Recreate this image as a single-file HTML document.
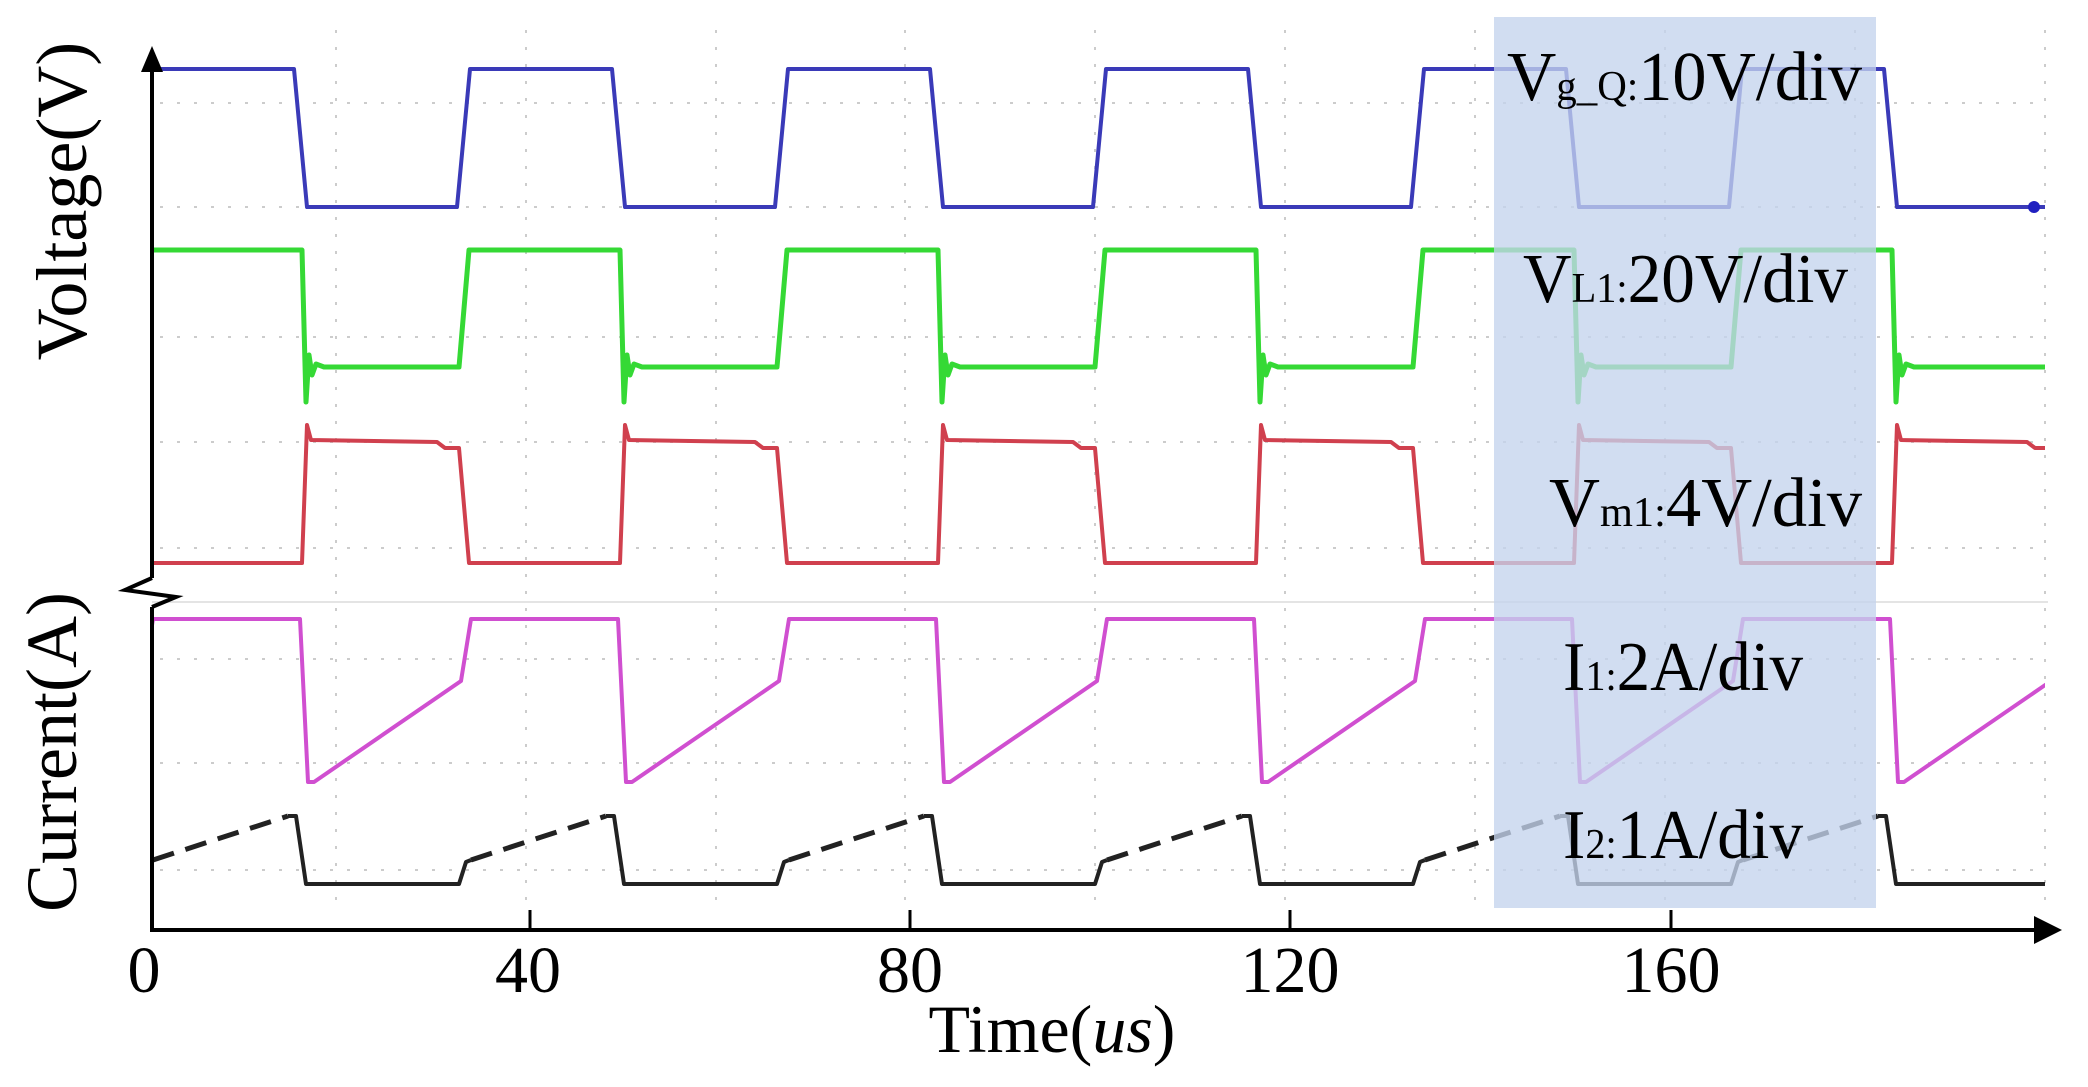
<!DOCTYPE html>
<html><head><meta charset="utf-8"><style>
html,body{margin:0;padding:0;background:#fff;}
svg{display:block;}
text{font-family:"Liberation Serif",serif;fill:#000;}
</style></head><body>
<svg id="s" width="2088" height="1087" viewBox="0 0 2088 1087" xmlns="http://www.w3.org/2000/svg">
<defs><clipPath id="c"><rect x="153" y="20" width="1892" height="900"/></clipPath></defs>
<g id="grid" stroke="#ccc" stroke-width="2" stroke-dasharray="3 14" fill="none"></g>
<line x1="152" y1="602" x2="2048" y2="602" stroke="#e4e4e4" stroke-width="2"/>
<g id="tr" clip-path="url(#c)" fill="none" stroke-linejoin="round"></g>
<rect x="1494" y="17" width="382" height="891" fill="rgb(196,211,237)" opacity="0.78"/>
<line x1="152" y1="60" x2="152" y2="578" stroke="#000" stroke-width="4"/>
<polyline points="152,578 125,590 176,597 152,607" fill="none" stroke="#000" stroke-width="4"/>
<line x1="152" y1="607" x2="152" y2="930" stroke="#000" stroke-width="4"/>
<polygon points="152,46 141,72 163,72" fill="#000"/>
<line x1="150" y1="930" x2="2040" y2="930" stroke="#000" stroke-width="4"/>
<polygon points="2062,930 2034,916 2034,944" fill="#000"/>
<g stroke="#000" stroke-width="3"><line x1="530" y1="910" x2="530" y2="930"/><line x1="910" y1="910" x2="910" y2="930"/><line x1="1290" y1="910" x2="1290" y2="930"/><line x1="1671" y1="910" x2="1671" y2="930"/></g>
<g font-size="66" text-anchor="middle">
<text x="144" y="992">0</text><text x="528" y="992">40</text><text x="910" y="992">80</text><text x="1290" y="992">120</text><text x="1671" y="992">160</text>
<text x="1052" y="1052" font-size="68">Time(<tspan font-style="italic">us</tspan>)</text>
<text transform="translate(86,201) rotate(-90)" font-size="72">Voltage(V)</text>
<text transform="translate(76,752) rotate(-90)" font-size="72">Current(A)</text>
</g>
<g font-size="70">
<text x="1507" y="100" textLength="355" lengthAdjust="spacingAndGlyphs">V<tspan font-size="42">g_Q:</tspan>10V/div</text>
<text x="1523" y="302" textLength="325" lengthAdjust="spacingAndGlyphs">V<tspan font-size="42">L1:</tspan>20V/div</text>
<text x="1549" y="526" textLength="313" lengthAdjust="spacingAndGlyphs">V<tspan font-size="42">m1:</tspan>4V/div</text>
<text x="1563" y="690" textLength="240" lengthAdjust="spacingAndGlyphs">I<tspan font-size="42">1:</tspan>2A/div</text>
<text x="1563" y="858" textLength="240" lengthAdjust="spacingAndGlyphs">I<tspan font-size="42">2:</tspan>1A/div</text>
</g>
</svg>
<script>
(function(){
var P=318,F0=294,ns="http://www.w3.org/2000/svg";
var g=document.getElementById('grid'),tr=document.getElementById('tr');
function L(p,par,attrs){var e=document.createElementNS(ns,'path');e.setAttribute('d',p);for(var k in attrs)e.setAttribute(k,attrs[k]);par.appendChild(e);}
var d="";
[336,526,716,905,1095,1285,1475,1665,1855,2045].forEach(function(x){d+="M"+x+" 30V910";});
[103,207,337,442,548,659,763,870].forEach(function(y){d+="M160 "+y+"H2045";});
L(d,g,{});
var b="M152 69",gr="M152 250",r="M152 563",pk="M152 619";
for(var k=-1;k<7;k++){
 var f=F0+P*k, ri=f+163;
 b+=" L"+f+" 69 L"+(f+13)+" 207 L"+ri+" 207 L"+(ri+13)+" 69";
 gr+=" L"+(f+8)+" 250 L"+(f+12)+" 402 L"+(f+15)+" 355 L"+(f+18)+" 375 L"+(f+22)+" 364 L"+(f+30)+" 367 L"+(ri+2)+" 367 L"+(ri+12)+" 250";
 r+=" L"+(f+8)+" 563 L"+(f+13)+" 425 L"+(f+17)+" 440 L"+(ri-20)+" 442 L"+(ri-12)+" 448 L"+(ri+2)+" 448 L"+(ri+12)+" 563";
 pk+=" L"+(f+6)+" 619 L"+(f+14)+" 782 L"+(f+20)+" 782 L"+(ri+4)+" 681 L"+(ri+14)+" 619";
}
var bk="",bkr="";
for(var k=-1;k<7;k++){
 var f=F0+P*k, ri=f+163;
 bk+="M"+(f-6)+" 816 L"+(f+2)+" 816 L"+(f+12)+" 884 L"+(ri+2)+" 884 L"+(ri+9)+" 862 L"+(ri+14)+" 860";
 bkr+="M"+(ri+14)+" 860 L"+(f+P-6)+" 816";
}
L(b,tr,{stroke:"#3a3ab8","stroke-width":4});
L(gr,tr,{stroke:"#35d935","stroke-width":5});
L(r,tr,{stroke:"#d0404e","stroke-width":4});
L(pk,tr,{stroke:"#d04fd0","stroke-width":4});
L(bk,tr,{stroke:"#222","stroke-width":4});
L(bkr,tr,{stroke:"#222","stroke-width":5,"stroke-dasharray":"22 12"});
var c=document.createElementNS(ns,'circle');c.setAttribute('cx',2034);c.setAttribute('cy',207);c.setAttribute('r',6);c.setAttribute('fill','#2020c0');document.getElementById('s').appendChild(c);
})();
</script>
</body></html>
